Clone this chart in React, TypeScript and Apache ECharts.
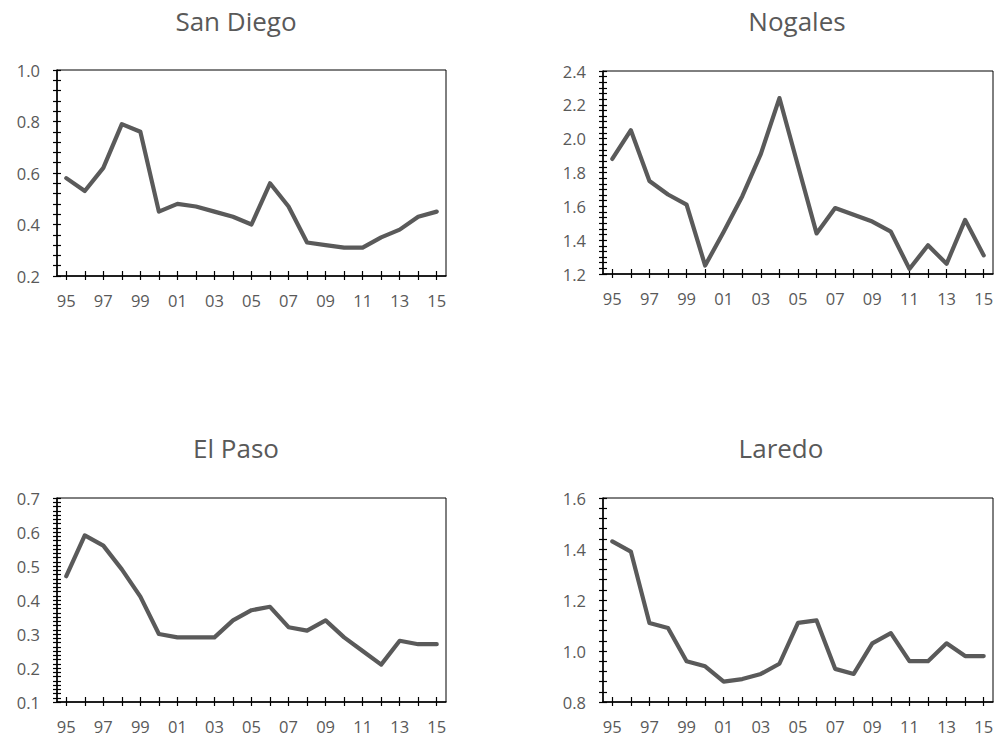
import React, { useEffect, useRef } from "react";
import * as echarts from "echarts";

const years = ["95","96","97","98","99","00","01","02","03","04","05","06","07","08","09","10","11","12","13","14","15"];

const sanDiego = [0.58,0.53,0.62,0.79,0.76,0.45,0.48,0.47,0.45,0.43,0.40,0.56,0.47,0.33,0.32,0.31,0.31,0.35,0.38,0.43,0.45];
const nogales = [1.88,2.05,1.75,1.67,1.61,1.25,1.45,1.66,1.91,2.24,1.84,1.44,1.59,1.55,1.51,1.45,1.23,1.37,1.26,1.52,1.31];
const elPaso = [0.47,0.59,0.56,0.49,0.41,0.30,0.29,0.29,0.29,0.34,0.37,0.38,0.32,0.31,0.34,0.29,0.25,0.21,0.28,0.27,0.27];
const laredo = [1.43,1.39,1.11,1.09,0.96,0.94,0.88,0.89,0.91,0.95,1.11,1.12,0.93,0.91,1.03,1.07,0.96,0.96,1.03,0.98,0.98];

const titles = ["San Diego", "Nogales", "El Paso", "Laredo"];
const yMins = [0.2, 1.2, 0.1, 0.8];
const yMaxs = [1.0, 2.4, 0.7, 1.6];
const yIntervals = [0.2, 0.2, 0.1, 0.2];
const minorSplits = [5, 6, 8, 5];

const FONT = "'Open Sans', 'Noto Sans', sans-serif";
const TXT = "#595959";

export default function App() {
  const ref = useRef<HTMLDivElement>(null);
  useEffect(() => {
    if (!ref.current) return;
    const chart = echarts.init(ref.current, null, { renderer: "svg" });
    const seriesData = [sanDiego, nogales, elPaso, laredo];
    const grids = [
      { left: 57, top: 70, width: 389, height: 206 },
      { left: 603, top: 71, width: 390, height: 203 },
      { left: 57, top: 498, width: 389, height: 204 },
      { left: 603, top: 498, width: 390, height: 204 },
    ];
    const titlePos = [
      [236, 21],
      [797, 21],
      [236, 448],
      [781, 448],
    ];
    const xAxis: any[] = [];
    const yAxis: any[] = [];
    const series: any[] = [];
    grids.forEach((g, i) => {
      xAxis.push({
        type: "category",
        gridIndex: i,
        data: years,
        boundaryGap: true,
        axisLine: { show: true, lineStyle: { color: "#000", width: 1.5 } },
        axisTick: { show: true, alignWithLabel: true, interval: 0, length: 4, lineStyle: { color: "#000", width: 1.2 } },
        axisLabel: { interval: 1, color: TXT, fontFamily: FONT, fontSize: 16.5, margin: 16 },
        splitLine: { show: false },
      });
      xAxis.push({
        type: "category",
        gridIndex: i,
        data: years,
        position: "bottom",
        boundaryGap: true,
        axisLine: { show: false },
        axisTick: { show: true, inside: true, alignWithLabel: true, interval: 0, length: 5, lineStyle: { color: "#000", width: 1.2 } },
        axisLabel: { show: false },
        splitLine: { show: false },
      });
      const yBase = {
        type: "value",
        gridIndex: i,
        position: "left",
        min: yMins[i],
        max: yMaxs[i],
        interval: yIntervals[i],
        splitLine: { show: false },
        minorTick: { show: true, splitNumber: minorSplits[i], length: 4, lineStyle: { color: "#000", width: 1.2 } },
      };
      yAxis.push({
        ...yBase,
        axisLine: { show: true, lineStyle: { color: "#000", width: 1.5 } },
        axisTick: { show: true, length: 4, lineStyle: { color: "#000", width: 1.2 } },
        axisLabel: { color: TXT, fontFamily: FONT, fontSize: 16.5, margin: 17, formatter: (v: number) => v.toFixed(1) },
      });
      yAxis.push({
        ...yBase,
        axisLine: { show: false },
        axisTick: { show: true, inside: true, length: 4, lineStyle: { color: "#000", width: 1.2 } },
        axisLabel: { show: false },
      });
      series.push({
        type: "line",
        xAxisIndex: i * 2,
        yAxisIndex: i * 2,
        data: seriesData[i],
        symbol: "none",
        lineStyle: { color: "#5a5a5a", width: 4.2, join: "round", cap: "round" },
      });
    });
    chart.setOption({
      animation: false,
      backgroundColor: "#ffffff",
      grid: grids.map((g) => ({ ...g, show: true, borderColor: "#000", borderWidth: 1, backgroundColor: "transparent" })),
      xAxis,
      yAxis,
      series,
      graphic: titles.map((t, i) => ({
        type: "text",
        x: titlePos[i][0],
        y: titlePos[i][1],
        style: {
          text: t,
          fill: TXT,
          font: `26px ${FONT}`,
          textAlign: "center",
          textVerticalAlign: "middle",
        },
      })),
    });
    return () => chart.dispose();
  }, []);
  return (
    <div
      ref={ref}
      style={{ position: "fixed", left: 0, top: 0, width: 1003, height: 742, background: "#fff" }}
    />
  );
}
